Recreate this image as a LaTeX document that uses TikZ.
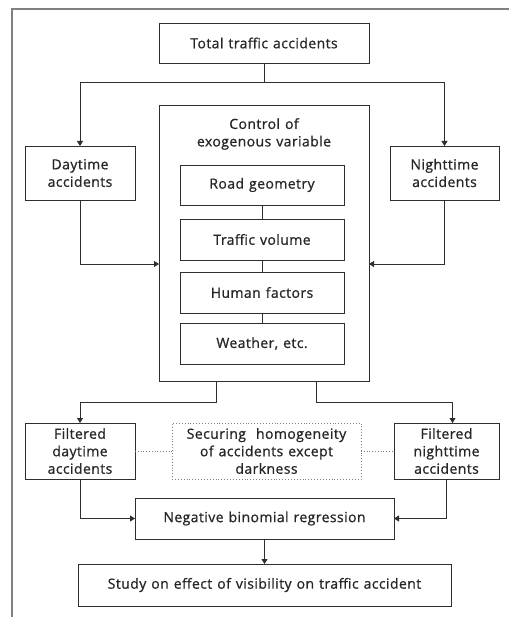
\documentclass[tikz,border=0pt]{standalone}
\usepackage{fontspec}
\setmainfont{Open Sans}[LetterSpace=3,FakeBold=0.8]
\usetikzlibrary{arrows.meta}
\definecolor{ln}{HTML}{2E2E2E}
\newcommand{\boxfont}{\fontsize{14}{17.5}\selectfont\spaceskip=5pt plus 1pt\relax}
\tikzset{
  box/.style={draw=ln, line width=0.9pt, inner sep=0pt, outer sep=0pt, align=center,
    font=\boxfont, text=black!85},
  dotbox/.style={box, draw=gray, dotted, line width=0.8pt},
  arr/.style={draw=ln, line width=0.9pt, -{Triangle[length=5pt,width=6pt]}},
  con/.style={draw=ln, line width=0.9pt},
  dcon/.style={draw=gray, dotted, line width=0.8pt},
}
\begin{document}
\begin{tikzpicture}[x=1pt,y=-1pt]
\useasboundingbox (0,0) rectangle (509,617);
\fill[white] (0,0) rectangle (509,617);
\draw[gray, line width=1.6pt] (12,617) -- (12,9) -- (509,9);

\node[box, minimum width=210pt, minimum height=40pt] (total) at (264,43) {Total traffic accidents};
\node[box, minimum width=110pt, minimum height=54pt] (day) at (80,173) {Daytime\\accidents};
\node[box, minimum width=109pt, minimum height=54pt] (night) at (444.5,173) {Nighttime\\accidents};
\node[box, minimum width=210pt, minimum height=276pt] (ctrl) at (264,243) {};
\node[align=center, font=\boxfont, text=black!85, inner sep=0pt] (ctitle) at (264,134) {Control of\\exogenous variable};
\node[box, minimum width=164pt, minimum height=40pt] (road) at (262,185) {Road geometry};
\node[box, minimum width=164pt, minimum height=41pt] (vol) at (262,239.5) {Traffic volume};
\node[box, minimum width=164pt, minimum height=41pt] (human) at (262,292.5) {Human factors};
\node[box, minimum width=164pt, minimum height=41pt] (weather) at (262,343.5) {Weather, etc.};

\node[box, minimum width=110pt, minimum height=56pt] (fday) at (80,451) {Filtered\\daytime\\accidents};
\node[box, minimum width=105pt, minimum height=56pt] (fnight) at (446.5,451) {Filtered\\nighttime\\accidents};
\node[dotbox, minimum width=189pt, minimum height=56pt] (secure) at (266.5,451) {Securing\ \ homogeneity\\of accidents except\\darkness};
\node[box, minimum width=259pt, minimum height=41pt] (neg) at (264.5,518.5) {Negative binomial regression};
\node[box, minimum width=373pt, minimum height=42pt] (study) at (264.5,585) {Study on effect of visibility on traffic accident};

\coordinate (split) at (264,82);
\draw[con] (total.south) -- (split);
\draw[arr] (split) -| (day.north);
\draw[arr] (split) -| (night.north);
\draw[arr] (day.south) |- ([yshift=-21pt]ctrl.west);
\draw[arr] (night.south) |- ([yshift=-21pt]ctrl.east);
\draw[con] (road) -- (vol);
\draw[con] (vol) -- (human);
\draw[con] (human) -- (weather);
\draw[arr] ([xshift=-48pt]ctrl.south) -- ++(0,21) -| (fday.north);
\draw[arr] ([xshift=52pt]ctrl.south) -- ++(0,21) -| ([xshift=6pt]fnight.north);
\draw[dcon] (fday.east) -- (secure.west);
\draw[dcon] (secure.east) -- (fnight.west);
\draw[arr] (fday.south) |- (neg.west);
\draw[arr] (fnight.south) |- (neg.east);
\draw[arr] (neg.south) -- (study.north);
\end{tikzpicture}
\end{document}
